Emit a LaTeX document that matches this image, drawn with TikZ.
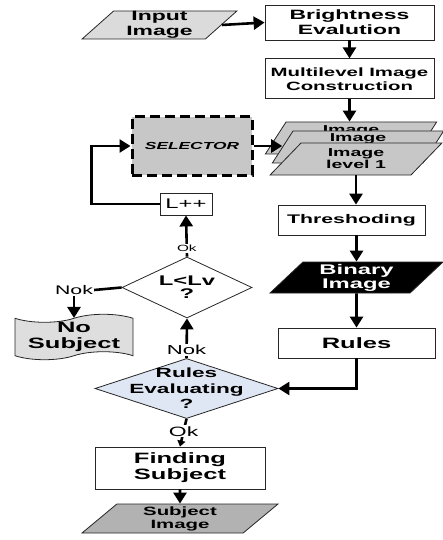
\documentclass[tikz,border=0pt]{standalone}
\usepackage{fontspec}
\setmainfont[FakeStretch=1.7]{Liberation Sans}
\usetikzlibrary{arrows.meta}
\usetikzlibrary{positioning}
\usetikzlibrary{shapes.geometric}
\usetikzlibrary{shapes.symbols}

\definecolor{inputgrey}{gray}{0.86}
\definecolor{stackgrey}{gray}{0.78}
\definecolor{outgrey}{gray}{0.70}
\definecolor{docgrey}{gray}{0.87}
\definecolor{evalblue}{RGB}{224,231,244}

\tikzset{
  process/.style={rectangle, draw=black!85, line width=0.8pt, fill=white,
    inner sep=0pt, align=center},
  io/.style={trapezium, trapezium left angle=50, trapezium right angle=130,
    trapezium stretches=true, draw=black!85, line width=0.8pt,
    inner sep=0pt, align=center},
  decision/.style={diamond, draw=black!85, line width=0.8pt, inner sep=0pt},
  flow/.style={line width=2.6pt, -{Triangle[width=13pt,length=11pt]}},
  link/.style={line width=2.6pt},
  tag/.style={fill=white, inner sep=1pt},
}

\begin{document}
\begin{tikzpicture}[x=1pt, y=-1pt]
  \useasboundingbox (0,0) rectangle (443,540);

  % right column
  \node[io, fill=inputgrey, minimum width=155pt, minimum height=28pt,
    font=\bfseries\fontsize{13.5}{15}\selectfont] (inp) at (159.5,25) {Input\\Image};
  \node[process, minimum width=169pt, minimum height=35pt,
    font=\bfseries\fontsize{13.5}{15}\selectfont] (bright) at (349.5,22.5) {Brightness\\Evalution};
  \node[process, minimum width=169pt, minimum height=40pt, below=18pt of bright,
    font=\bfseries\fontsize{12}{14}\selectfont] (multi) {Multilevel Image\\Construction};

  \node[io, fill=stackgrey, minimum width=172pt, minimum height=32pt,
    label={[anchor=center, yshift=-9pt, font=\bfseries\fontsize{11.5}{13}\selectfont]north:Image}]
    (lvl3) at (351,138) {\phantom{Image}};
  \node[io, fill=stackgrey, minimum width=172pt, minimum height=32pt,
    label={[anchor=center, yshift=-8pt, font=\bfseries\fontsize{11.5}{13}\selectfont]north:Image}]
    (lvl2) at (358,147) {\phantom{Image}};
  \node[io, fill=stackgrey, minimum width=172pt, minimum height=32pt,
    font=\bfseries\fontsize{11.5}{12}\selectfont] (lvl1) at (356,159) {Image\\level 1};

  \node[process, minimum width=147pt, minimum height=30pt,
    font=\bfseries\fontsize{12.5}{14}\selectfont] (thresh) at (351.5,220) {Threshoding};
  \node[io, fill=black, text=white, minimum width=173pt, minimum height=31pt,
    font=\bfseries\fontsize{14}{14}\selectfont] (binary) at (356.5,277.5) {Binary\\Image};
  \node[process, minimum width=157pt, minimum height=30pt,
    font=\bfseries\fontsize{15}{16}\selectfont] (rules) at (356.5,343) {Rules};

  % left column
  \node[process, draw=black, fill=stackgrey, dash pattern=on 10pt off 5pt, line width=3pt,
    minimum width=120pt, minimum height=58pt,
    font=\bfseries\itshape\fontsize{10.2}{12}\selectfont] (sel) at (192,146) {SELECTOR};
  \node[process, minimum width=52pt, minimum height=22pt,
    font=\fontsize{14}{14}\selectfont] (lpp) at (186,204) {L++};
  \node[decision, minimum width=130pt, minimum height=61pt,
    label={[align=center, font=\bfseries\fontsize{14}{13}\selectfont]center:L<Lv\\?}]
    (lcheck) at (187,287.5) {};
  \node[font=\fontsize{12.5}{14}\selectfont, inner sep=1pt] (nokl) at (74,290) {Nok};
  \node[tape, draw=black!85, line width=0.8pt, fill=docgrey, tape bend height=8pt,
    minimum width=118pt, minimum height=39pt, inner sep=0pt, align=center,
    font=\bfseries\fontsize{15}{16}\selectfont] (nosub) at (74,337) {No\\Subject};
  \node[decision, fill=evalblue, minimum width=183pt, minimum height=60pt,
    label={[align=center, font=\bfseries\fontsize{13.3}{15.5}\selectfont]center:Rules\\Evaluating\\?}]
    (reval) at (186.5,388.5) {};
  \node[process, minimum width=170pt, minimum height=42pt,
    font=\bfseries\fontsize{15}{16}\selectfont] (find) at (180,468) {Finding\\Subject};
  \node[io, fill=outgrey, minimum width=196pt, minimum height=29pt,
    font=\bfseries\fontsize{12}{13}\selectfont] (subimg) at (180,518.5) {Subject\\Image};

  % connectors
  \draw[flow] (inp.east) -- (bright.west);
  \draw[flow] (bright.south) -- (multi.north);
  \draw[flow] (multi.south) -- (multi.south |- lvl3.north);
  \draw[flow] (sel.east) -- (sel.east -| lvl2.west);
  \draw[flow] (lvl1.south) -- (lvl1.south |- thresh.north);
  \draw[flow] (binary.north |- thresh.south) -- (binary.north);
  \draw[flow] (binary.south) -- (rules.north);
  \draw[flow] (rules.south) |- (reval.east);
  \draw[flow] (reval.north) -- node[tag, pos=0.2, font=\fontsize{13}{14}\selectfont] {Nok} (lcheck.south);
  \draw[flow] (lcheck.north) -- node[tag, pos=0.2, font=\fontsize{9}{10}\selectfont] {Ok} (lpp.south);
  \draw[flow] (lpp.west) -| ([xshift=-39pt]sel.west) -- (sel.west);
  \draw[link] (lcheck.west) -- (nokl.east);
  \draw[flow] (nokl.south) -- (nosub.north);
  \draw[line width=2.6pt, -{Triangle[width=8pt,length=6pt]}] (reval.south)
    -- node[tag, pos=0.45, font=\fontsize{13.5}{14}\selectfont] {Ok} (find.north);
  \draw[flow] (find.south) -- (subimg.north);
\end{tikzpicture}
\end{document}
